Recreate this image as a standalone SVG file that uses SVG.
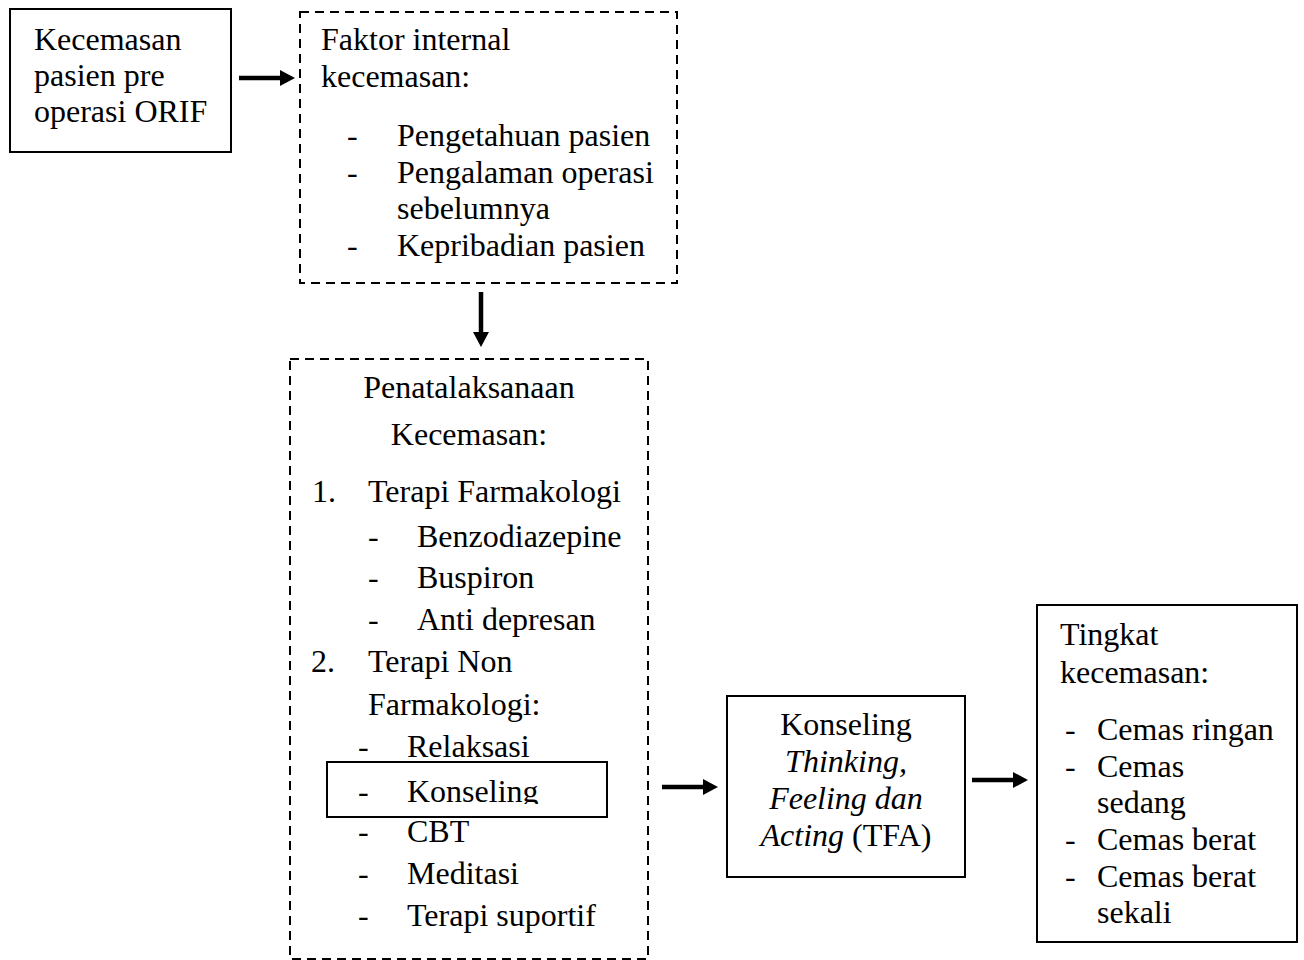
<svg xmlns="http://www.w3.org/2000/svg" width="1304" height="960" viewBox="0 0 1304 960">
<style>
text{font-family:"Liberation Serif","Times New Roman",serif;font-size:32px;fill:#000}
.box{fill:#fff;stroke:#000;stroke-width:2}
.dash{fill:none;stroke:#000;stroke-width:2;stroke-dasharray:9 6}
.arr{stroke:#000;stroke-width:4.5;fill:none;marker-end:url(#ah)}
.c{text-anchor:middle}
.i{font-style:italic}
</style>
<defs>
<marker id="ah" viewBox="0 0 15 16" refX="3" refY="8" markerWidth="15" markerHeight="16" markerUnits="userSpaceOnUse" orient="auto">
<path d="M0,0 L15,8 L0,16 z" fill="#000"/>
</marker>
<clipPath id="kclip"><rect x="320" y="760" width="300" height="44"/></clipPath>
</defs>
<rect width="1304" height="960" fill="#fff"/>

<g id="n1">
<rect class="box" x="10" y="9" width="221" height="143"/>
<text x="34" y="50">Kecemasan</text>
<text x="34" y="86">pasien pre</text>
<text x="34" y="122">operasi ORIF</text>
</g>

<g id="n2">
<rect class="dash" x="300" y="12" width="377" height="271"/>
<text x="321" y="50">Faktor internal</text>
<text x="321" y="87">kecemasan:</text>
<text x="347" y="146">-</text><text x="397" y="146">Pengetahuan pasien</text>
<text x="347" y="183">-</text><text x="397" y="183">Pengalaman operasi</text>
<text x="397" y="219">sebelumnya</text>
<text x="347" y="256">-</text><text x="397" y="256">Kepribadian pasien</text>
</g>

<g id="n3">
<rect class="dash" x="290" y="359" width="358" height="600"/>
<text class="c" x="469" y="398">Penatalaksanaan</text>
<text class="c" x="469" y="445">Kecemasan:</text>
<text x="312" y="502">1.</text><text x="368" y="502">Terapi Farmakologi</text>
<text x="368" y="547">-</text><text x="417" y="547">Benzodiazepine</text>
<text x="368" y="588">-</text><text x="417" y="588">Buspiron</text>
<text x="368" y="630">-</text><text x="417" y="630">Anti depresan</text>
<text x="311" y="672">2.</text><text x="368" y="672">Terapi Non</text>
<text x="368" y="715">Farmakologi:</text>
<text x="358" y="757">-</text><text x="407" y="757">Relaksasi</text>
<text x="358" y="842">-</text><text x="407" y="842">CBT</text>
<text x="358" y="884">-</text><text x="407" y="884">Meditasi</text>
<text x="358" y="926">-</text><text x="407" y="926">Terapi suportif</text>
</g>

<g id="n3k">
<rect class="box" x="327" y="762" width="280" height="55" fill="none"/>
<g clip-path="url(#kclip)">
<text x="358" y="802">-</text><text x="407" y="802">Konseling</text>
</g>
</g>

<g id="n4">
<rect class="box" x="727" y="696" width="238" height="181"/>
<text class="c" x="846" y="735">Konseling</text>
<text class="c i" x="846" y="772">Thinking,</text>
<text class="c i" x="846" y="809">Feeling dan</text>
<text class="c" x="846" y="846"><tspan class="i">Acting</tspan> (TFA)</text>
</g>

<g id="n5">
<rect class="box" x="1037" y="605" width="260" height="337"/>
<text x="1060" y="645">Tingkat</text>
<text x="1060" y="683">kecemasan:</text>
<text x="1065" y="740">-</text><text x="1097" y="740">Cemas ringan</text>
<text x="1065" y="777">-</text><text x="1097" y="777">Cemas</text>
<text x="1097" y="813">sedang</text>
<text x="1065" y="850">-</text><text x="1097" y="850">Cemas berat</text>
<text x="1065" y="887">-</text><text x="1097" y="887">Cemas berat</text>
<text x="1097" y="923">sekali</text>
</g>

<g id="connectors">
<line class="arr" x1="239" y1="78" x2="283" y2="78"/>
<line class="arr" x1="481" y1="292" x2="481" y2="335"/>
<line class="arr" x1="662" y1="787" x2="706" y2="787"/>
<line class="arr" x1="972" y1="780" x2="1016" y2="780"/>
</g>
</svg>
